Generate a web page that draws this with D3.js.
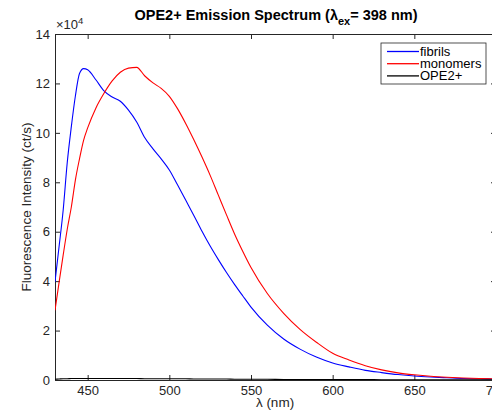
<!DOCTYPE html>
<html>
<head>
<meta charset="utf-8">
<script src="https://cdn.jsdelivr.net/npm/d3@7"></script>
<style>
  body { margin: 0; background: #fff; }
  text { font-family: "Liberation Sans", Arial, Helvetica, sans-serif; }
</style>
</head>
<body>
<script>
// emission wavelengths (nm)
var wavelength = [430, 432.5, 435, 437.5, 440, 442.5, 445, 447.5, 450, 455, 460, 465, 470, 475, 480, 485,
  490, 495, 500, 505, 510, 515, 520, 525, 530, 535, 540, 545, 550, 560, 570, 580, 590, 600,
  610, 620, 630, 640, 650, 660, 670, 680, 690, 700];

// intensities in units of 1e4 ct/s
var fibrils = [3.97, 5.4, 6.87, 8.8, 10.25, 11.5, 12.4, 12.6, 12.55, 12.15, 11.7, 11.45, 11.28, 10.92, 10.44, 9.8,
  9.35, 8.95, 8.5, 7.9, 7.28, 6.66, 6.02, 5.42, 4.87, 4.35, 3.86, 3.4, 2.95, 2.22, 1.66, 1.25, 0.93, 0.69,
  0.53, 0.39, 0.30, 0.22, 0.16, 0.12, 0.09, 0.06, 0.05, 0.04];
var monomers = [2.82, 3.95, 5.05, 6.1, 7.0, 8.1, 8.95, 9.7, 10.2, 11.0, 11.6, 12.1, 12.45, 12.62, 12.65, 12.3,
  12.02, 11.8, 11.48, 10.98, 10.38, 9.72, 9.02, 8.28, 7.48, 6.68, 5.9, 5.2, 4.55, 3.5, 2.7, 2.05, 1.53, 1.08,
  0.81, 0.58, 0.41, 0.29, 0.21, 0.15, 0.11, 0.08, 0.06, 0.05];
var ope2 = [0.03, 0.04, 0.05, 0.05, 0.06, 0.06, 0.06, 0.06, 0.06, 0.06, 0.06, 0.06, 0.06, 0.06, 0.06, 0.05,
  0.05, 0.05, 0.05, 0.05, 0.05, 0.04, 0.04, 0.04, 0.04, 0.04, 0.03, 0.03, 0.03, 0.03, 0.02, 0.02, 0.02, 0.02,
  0.02, 0.02, 0.01, 0.01, 0.01, 0.01, 0.01, 0.01, 0.01, 0.01];

var seriesNames = ["fibrils", "monomers", "OPE2+"];
var seriesColors = ["#0000ff", "#ff0000", "#000000"];
var xTicks = [450, 500, 550, 600, 650, 700];
var yTicks = [0, 2, 4, 6, 8, 10, 12, 14];

var series = seriesNames.map(function(name, i) {
  return {name: name, color: seriesColors[i], values: [fibrils, monomers, ope2][i]};
});

// plot box (the right edge runs just past the window, like the original)
var margin = {top: 34, left: 55},
    width = 441,
    height = 346;

var svg = d3.select("body").append("svg")
  .attr("width", 492)
  .attr("height", 411);

var g = svg.append("g")
  .attr("transform", "translate(" + margin.left + "," + margin.top + ")");

var x = d3.scaleLinear().domain([430, 700]).range([0, width]);
var y = d3.scaleLinear().domain([0, 14]).range([height, 0]);

g.append("clipPath").attr("id", "clip")
  .append("rect").attr("width", width).attr("height", height);

// axes, ticks pointing inward on all four sides
var axisColor = "#262626";
function styleAxis(sel) {
  sel.selectAll("path").attr("stroke", axisColor);
  sel.selectAll("line").attr("stroke", axisColor);
  sel.selectAll("text").attr("fill", axisColor).style("font-size", "13px");
}

g.append("g")
  .attr("transform", "translate(0," + height + ")")
  .call(d3.axisBottom(x).tickValues(xTicks).tickSizeInner(-5).tickSizeOuter(0).tickPadding(6))
  .call(styleAxis);

g.append("g")
  .call(d3.axisLeft(y).tickValues(yTicks).tickSizeInner(-5).tickSizeOuter(0).tickPadding(5))
  .call(styleAxis);

g.append("g")
  .call(d3.axisTop(x).tickValues(xTicks).tickSizeInner(-5).tickSizeOuter(0).tickFormat(""))
  .call(styleAxis);

g.append("g")
  .attr("transform", "translate(" + width + ",0)")
  .call(d3.axisRight(y).tickValues(yTicks).tickSizeInner(-5).tickSizeOuter(0).tickFormat(""))
  .call(styleAxis);

// spectra
var line = d3.line()
  .x(function(d, i) { return x(wavelength[i]); })
  .y(function(d) { return y(d); })
  .curve(d3.curveMonotoneX);

g.append("g").attr("clip-path", "url(#clip)")
  .selectAll(".spec")
  .data(series).enter()
  .append("path")
  .attr("class", "spec")
  .attr("fill", "none")
  .attr("stroke", function(d) { return d.color; })
  .attr("stroke-width", 1.1)
  .attr("d", function(d) { return line(d.values); });

// exponent label
var expo = svg.append("text")
  .attr("x", 56).attr("y", 29)
  .attr("fill", axisColor)
  .style("font-size", "13px");
expo.append("tspan").text("\u00d710");
expo.append("tspan").attr("dy", -5).style("font-size", "9.5px").text("4");

// title
var title = svg.append("text")
  .attr("x", 276).attr("y", 20)
  .attr("text-anchor", "middle")
  .style("font-size", "14.5px")
  .style("font-weight", "bold");
title.append("tspan").text("OPE2+ Emission Spectrum (\u03bb");
title.append("tspan").attr("dy", 5).style("font-size", "11px").text("ex");
title.append("tspan").attr("dy", -5).text("= 398 nm)");

// axis labels
svg.append("text")
  .attr("transform", "translate(31," + (margin.top + height / 2) + ") rotate(-90)")
  .attr("text-anchor", "middle")
  .attr("fill", axisColor)
  .style("font-size", "13.5px")
  .text("Fluorescence Intensity (ct/s)");

svg.append("text")
  .attr("x", 275).attr("y", 407)
  .attr("text-anchor", "middle")
  .attr("fill", axisColor)
  .style("font-size", "13.5px")
  .text("\u03bb (nm)");

// legend
var legend = svg.append("g").attr("transform", "translate(381,43)");
legend.append("rect")
  .attr("width", 105).attr("height", 41)
  .attr("fill", "#fff")
  .attr("stroke", axisColor)
  .attr("stroke-width", 0.8);

var rows = legend.selectAll(".row")
  .data(series).enter()
  .append("g")
  .attr("class", "row")
  .attr("transform", function(d, i) { return "translate(0," + (8.5 + i * 12.2) + ")"; });

rows.append("path")
  .attr("d", "M6,0H38")
  .attr("fill", "none")
  .style("stroke", function(d) { return d.color; })
  .style("stroke-width", "1.3px");

rows.append("text")
  .attr("x", 39).attr("dy", "0.35em")
  .style("font-size", "13px")
  .text(function(d) { return d.name; });
</script>
</body>
</html>
